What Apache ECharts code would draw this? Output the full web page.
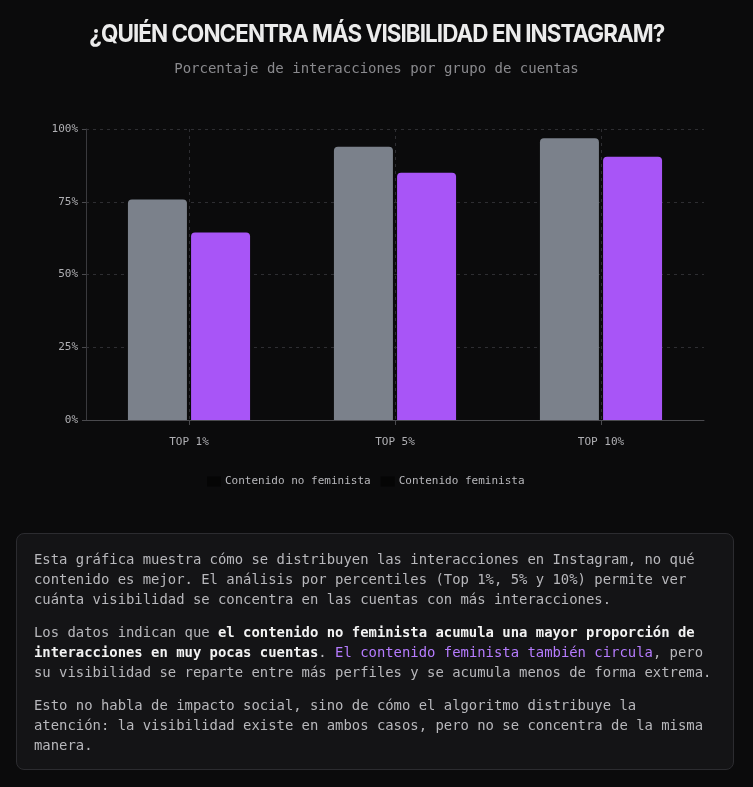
<!DOCTYPE html>
<html>
<head>
<meta charset="utf-8">
<script src="https://cdn.jsdelivr.net/npm/echarts@6/dist/echarts.min.js"></script>
<style>
html,body{margin:0;padding:0;background:#0b0b0c;width:753px;height:787px;overflow:hidden;}
#chart{position:absolute;left:0;top:0;width:753px;height:787px;}
#title{position:absolute;left:0;top:20px;width:753px;text-align:center;white-space:nowrap;}
#title span{display:inline-block;font-family:Inter,Roboto,sans-serif;font-weight:700;font-size:24px;line-height:28px;
  color:#ececec;letter-spacing:-1px;transform-origin:50% 50%;}
#panel{position:absolute;left:16px;top:533px;width:718px;height:237px;box-sizing:border-box;
  border:1px solid #2c2c30;border-radius:8px;background:rgba(22,22,25,0.85);
  padding:15px 16px 0 17px;font-family:"DejaVu Sans Mono","Liberation Mono",monospace;font-size:13.9px;
  line-height:20px;color:#b8b8bc;}
#panel p{margin:0 0 13px 0;}
#panel b{color:#f2f2f2;font-weight:bold;}
#panel .hl{color:#b67cff;}
</style>
</head>
<body>
<div id="chart"></div>
<div id="title"><span id="tt">¿QUIÉN CONCENTRA MÁS VISIBILIDAD EN INSTAGRAM?</span></div>
<div id="panel">
<p>Esta gráfica muestra cómo se distribuyen las interacciones en Instagram, no qué contenido es mejor. El análisis por percentiles (Top 1%, 5% y 10%) permite ver cuánta visibilidad se concentra en las cuentas con más interacciones.</p>
<p>Los datos indican que <b>el contenido no feminista acumula una mayor proporción de interacciones en muy pocas cuentas</b>. <span class="hl">El contenido feminista también circula</span>, pero su visibilidad se reparte entre más perfiles y se acumula menos de forma extrema.</p>
<p>Esto no habla de impacto social, sino de cómo el algoritmo distribuye la atención: la visibilidad existe en ambos casos, pero no se concentra de la misma manera.</p>
</div>
<script>
var categories = ['TOP 1%', 'TOP 5%', 'TOP 10%'];
var seriesNames = ['Contenido no feminista', 'Contenido feminista'];
var noFeminista = [75.8, 93.9, 96.8];
var feminista = [64.4, 85.0, 90.5];

(function fitTitle(){
  var t = document.getElementById('tt');
  var w = t.getBoundingClientRect().width;
  if (w > 0) t.style.transform = 'scaleX(' + (575 / w) + ')';
})();

var mono = '"DejaVu Sans Mono","Liberation Mono",monospace';
var chart = echarts.init(document.getElementById('chart'), null, {renderer: 'canvas'});
chart.setOption({
  backgroundColor: 'transparent',
  title: [{
    text: 'Porcentaje de interacciones por grupo de cuentas',
    left: 'center', top: 57,
    textStyle: {color: '#8a8a8e', fontSize: 14, fontWeight: 'normal', fontFamily: mono}
  }],
  legend: {
    data: seriesNames,
    top: 471, left: 202,
    itemWidth: 14, itemHeight: 10, itemGap: 10,
    icon: 'rect',
    itemStyle: {color: '#050505', borderWidth: 0},
    textStyle: {color: '#b8b8bc', fontSize: 11, fontFamily: mono, padding: [0, 0, 0, -1]}
  },
  grid: {left: 86, right: 49, top: 129, bottom: 367, containLabel: false},
  xAxis: {
    type: 'category',
    data: categories,
    axisLine: {show: true, lineStyle: {color: '#4a4a4e', width: 1}},
    axisTick: {show: true, alignWithLabel: true, length: 5, lineStyle: {color: '#4a4a4e'}},
    axisLabel: {color: '#b0b0b4', fontSize: 11, fontFamily: mono, margin: 17},
    splitLine: {show: true, alignWithLabel: true, lineStyle: {color: '#2e2e32', type: [3, 4], width: 1}}
  },
  yAxis: {
    type: 'value', min: 0, max: 100, interval: 25,
    axisLine: {show: true, lineStyle: {color: '#3a3a3e', width: 1}},
    axisTick: {show: true, length: 4, lineStyle: {color: '#4a4a4e'}},
    axisLabel: {color: '#b0b0b4', fontSize: 11, fontFamily: mono, margin: 8, formatter: '{value}%'},
    splitLine: {show: true, lineStyle: {color: '#2e2e32', type: [3, 4], width: 1}}
  },
  series: [{
    name: seriesNames[0], type: 'bar', data: noFeminista,
    barWidth: 59, barGap: '7%',
    itemStyle: {color: '#7b818b', borderRadius: [4, 4, 0, 0]}
  }, {
    name: seriesNames[1], type: 'bar', data: feminista,
    barWidth: 59,
    itemStyle: {color: '#a855f7', borderRadius: [4, 4, 0, 0]}
  }]
});
</script>
</body>
</html>
